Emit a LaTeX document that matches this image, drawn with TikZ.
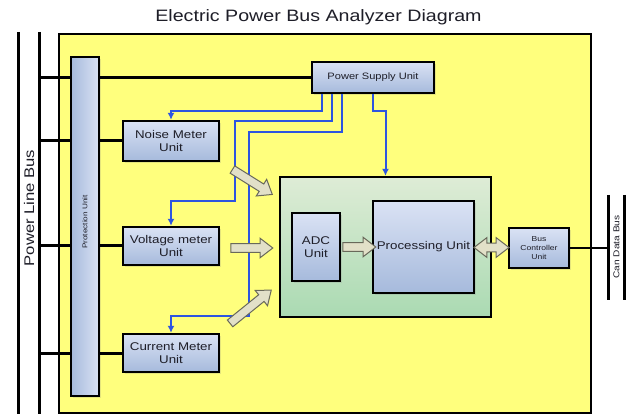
\documentclass[tikz,border=0pt]{standalone}
\usepackage{fontspec}
\setmainfont[FakeStretch=1.19]{Liberation Sans}
\usetikzlibrary{shapes.arrows,calc,shadows,arrows.meta}
\definecolor{boxtop}{RGB}{218,226,244}
\definecolor{boxbot}{RGB}{166,186,220}
\definecolor{yel}{RGB}{255,255,125}
\definecolor{greentop}{RGB}{222,236,214}
\definecolor{greenbot}{RGB}{170,218,178}
\definecolor{wireblue}{RGB}{45,85,225}
\definecolor{arrowfill}{RGB}{226,224,200}
\definecolor{arrowedge}{RGB}{105,105,90}
\definecolor{txt}{RGB}{30,30,40}
\begin{document}
\begin{tikzpicture}[x=1pt,y=-1pt,
  font=\fontsize{11.2}{13.5}\selectfont,
  unitbox/.style={draw=black, line width=2.4pt, top color=boxtop, bottom color=boxbot,
    align=center, text=txt, inner sep=0pt,
    drop shadow={shadow xshift=2pt,shadow yshift=-2pt,opacity=.2}},
  conn/.style={line width=3pt, black},
  busline/.style={line width=3pt, black},
  wire/.style={line width=2pt, wireblue, -{Latex[length=7pt,width=7pt]}},
  blockarr/.style={single arrow, draw=arrowedge, fill=arrowfill, line width=1pt,
    inner sep=3.8pt, single arrow head extend=5.5pt, single arrow tip angle=75},
  blockdbl/.style={double arrow, draw=arrowedge, fill=arrowfill, line width=1pt,
    inner sep=3.8pt, double arrow head extend=5.5pt, double arrow tip angle=75}]
\useasboundingbox (0,0) rectangle (632,414);
\fill[white] (0,0) rectangle (632,414);

% title
\node[anchor=base, font=\fontsize{16.5}{18}\selectfont, text=txt] (title) at (318.5,21.7)
  {Electric Power Bus Analyzer Diagram};

% main yellow board
\node[draw=black, line width=2.4pt, fill=yel, minimum width=532, minimum height=379,
  inner sep=0pt, anchor=north west] (board) at (58,33) {};

% power line bus
\coordinate (busL) at (18,32);
\coordinate (busR) at (39,32);
\draw[busline] (busL) -- (18,414);
\draw[busline] (busR) -- (39,414);
\node[rotate=90, font=\fontsize{14}{16}\selectfont, text=txt] (plbtext) at (29,208) {Power Line Bus};

% CAN data bus
\coordinate (canL) at (608,195);
\coordinate (canR) at (624,195);
\draw[busline] (canL) -- (608,300);
\draw[busline] (canR) -- (624,300);
\node[rotate=90, font=\fontsize{8.5}{10}\selectfont, text=txt] (cantext) at (616.5,247) {Can Data Bus};

% units
\node[draw=black, line width=2.4pt, left color=boxbot, right color=boxtop,
  minimum width=28, minimum height=339, inner sep=0pt,
  drop shadow={shadow xshift=2pt,shadow yshift=-2pt,opacity=.2}] (prot) at (85,226.5) {};
\node[rotate=90, font=\fontsize{6.9}{8}\selectfont, text=txt] (prottext) at (85,222) {Protection Unit};

\node[unitbox, minimum width=122, minimum height=31, font=\fontsize{9.3}{11}\selectfont] (psu) at (373,77.5) {Power Supply Unit};
\node[unitbox, minimum width=96, minimum height=40] (noise) at (171,141) {Noise Meter\\Unit};
\node[unitbox, minimum width=96, minimum height=38] (volt) at (171,246) {Voltage meter\\Unit};
\node[unitbox, minimum width=96, minimum height=38] (curr) at (171,353) {Current Meter\\Unit};

\node[draw=black, line width=2.4pt, top color=greentop, bottom color=greenbot,
  minimum width=211, minimum height=140, inner sep=0pt] (green) at (385.5,247) {};
\node[unitbox, minimum width=48, minimum height=68] (adc) at (316,247) {ADC\\Unit};
\node[unitbox, minimum width=101, minimum height=92] (proc) at (423.5,247) {Processing Unit};
\node[unitbox, minimum width=60, minimum height=40, font=\fontsize{7.2}{9}\selectfont] (bcu) at (539,248) {Bus\\Controller\\Unit};

% black connections
\draw[conn] (busR |- psu.west) -- (prot.west |- psu.west);
\draw[conn] (prot.east |- psu.west) -- (psu.west);
\draw[conn] (busR |- noise.west) -- (prot.west |- noise.west);
\draw[conn] (prot.east |- noise.west) -- (noise.west);
\draw[conn] (busR |- volt.west) -- (prot.west |- volt.west);
\draw[conn] (prot.east |- volt.west) -- (volt.west);
\draw[conn] (busR |- curr.west) -- (prot.west |- curr.west);
\draw[conn] (prot.east |- curr.west) -- (curr.west);
\draw[line width=2.4pt] (bcu.east) -- (canL |- bcu.east);

% blue supply wires
\draw[wire] ($(psu.south west)+(11,0)$) -- ++(0,17) -| (noise.north);
\draw[wire] ($(psu.south west)+(21,0)$) -- ++(0,27) -| (235,201) -| (volt.north);
\draw[wire] ($(psu.south west)+(31,0)$) -- ++(0,38) -| (249,316) -| (curr.north);
\draw[wire] (psu.south) -- ++(0,17) -| (green.north);

% block arrows
\node[blockarr, minimum height=47, rotate=-32] (a1) at (250,180.5) {};
\node[blockarr, minimum height=42] (a2) at (249,248) {};
\node[blockarr, minimum height=53, rotate=39] (a3) at (248.5,308.5) {};
\node[blockarr, minimum height=33] (a4) at ($(adc.east)!0.5!(proc.west)$) {};
\node[blockdbl, minimum height=35] (a5) at ($(proc.east)!0.5!(bcu.west)$) {};
\end{tikzpicture}
\end{document}
